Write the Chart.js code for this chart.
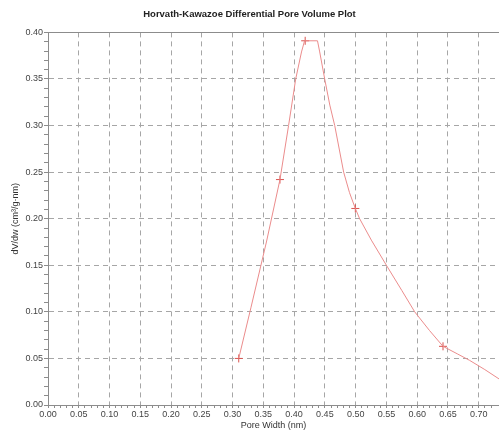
<!DOCTYPE html>
<html lang="en">
<head>
  <meta charset="UTF-8" />
  <title>Horvath-Kawazoe Differential Pore Volume Plot</title>
  <script src="https://cdn.jsdelivr.net/npm/chart.js"></script>
  <style>
    body {
      margin: 0;
      background: #fff;
    }
    canvas {
      display: block;
    }
  </style>
</head>
<body>
  <canvas id="hkChart" width="499" height="430"></canvas>

  <script>
    // curve (pore width in nm, dV/dw in cm3/g.nm)
    const poreWidth = [0.310, 0.330, 0.355, 0.377, 0.391, 0.4026, 0.412, 0.417, 0.438, 0.4416, 0.4497, 0.458,
      0.466, 0.4805, 0.490, 0.4995, 0.5065, 0.5255, 0.550, 0.575, 0.596, 0.620, 0.642, 0.665, 0.685, 0.710, 0.733];
    const dVdw = [0.050, 0.105, 0.175, 0.242, 0.300, 0.350, 0.379, 0.391, 0.391, 0.379, 0.350, 0.322,
      0.300, 0.250, 0.228, 0.211, 0.200, 0.177, 0.150, 0.123, 0.100, 0.080, 0.063, 0.055, 0.048, 0.038, 0.028];

    // measured points drawn with a "+"
    const markerWidth = [0.310, 0.377, 0.418, 0.4995, 0.642];
    const markerDVdw = [0.050, 0.242, 0.391, 0.211, 0.063];

    const xMin = 0, xMax = 0.733;
    const yMin = 0, yMax = 0.40;
    const minorStep = 0.01;

    const font = { family: "'Liberation Sans', Arial, sans-serif", size: 9 };
    const axisGray = '#8c8c8c';
    const gridGray = '#a6a6a6';

    function isMajor(v) {
      return Math.round(v * 100) % 5 === 0;
    }

    function keepHundredths(scale) {
      scale.ticks = scale.ticks.filter(t => Math.abs(t.value * 100 - Math.round(t.value * 100)) < 1e-6);
    }

    function points(xs, ys) {
      return xs.map((x, i) => ({ x: x, y: ys[i] }));
    }

    const ctx = document.getElementById('hkChart').getContext('2d');
    new Chart(ctx, {
      type: 'scatter',
      data: {
        datasets: [
          {
            label: 'dV/dw',
            data: points(poreWidth, dVdw),
            showLine: true,
            borderColor: '#eb8c8c',
            borderWidth: 1,
            pointRadius: 0,
            tension: 0
          },
          {
            label: 'points',
            data: points(markerWidth, markerDVdw),
            showLine: false,
            pointStyle: 'cross',
            pointRadius: 4,
            borderColor: '#d9534f',
            borderWidth: 1
          }
        ]
      },
      options: {
        responsive: false,
        animation: false,
        layout: { padding: 0, autoPadding: false },
        plugins: {
          legend: { display: false },
          tooltip: { enabled: false },
          title: {
            display: true,
            text: 'Horvath-Kawazoe Differential Pore Volume Plot',
            color: '#222',
            font: { family: font.family, size: 9.5, weight: 'bold' },
            padding: { top: 9, bottom: 12 }
          }
        },
        scales: {
          x: {
            type: 'linear',
            position: 'bottom',
            min: xMin,
            max: xMax,
            afterBuildTicks: keepHundredths,
            afterFit: scale => { scale.height = 25; scale.paddingRight = 0; },
            ticks: {
              stepSize: minorStep,
              autoSkip: false,
              maxRotation: 0,
              padding: 1,
              color: '#444',
              font: font,
              callback: v => isMajor(v) ? v.toFixed(2) : ''
            },
            grid: {
              color: c => isMajor(c.tick.value) && c.tick.value > 0 ? gridGray : 'rgba(0,0,0,0)',
              tickColor: axisGray,
              tickLength: 3,
              lineWidth: 1
            },
            border: { color: axisGray, dash: [5, 4] },
            title: {
              display: true,
              text: 'Pore Width (nm)',
              color: '#333',
              font: font,
              padding: { top: 0, bottom: -1 }
            }
          },
          xTop: {
            type: 'linear',
            position: 'top',
            min: xMin,
            max: xMax,
            afterFit: scale => { scale.height = 0; scale.paddingRight = 0; scale.paddingLeft = 0; },
            ticks: { display: false },
            grid: { display: false, drawTicks: false },
            border: { color: axisGray }
          },
          y: {
            type: 'linear',
            position: 'left',
            min: yMin,
            max: yMax,
            afterBuildTicks: keepHundredths,
            afterFit: scale => { scale.width = 48; },
            ticks: {
              stepSize: minorStep,
              autoSkip: false,
              padding: 1,
              color: '#444',
              font: font,
              callback: v => isMajor(v) ? v.toFixed(2) : ''
            },
            grid: {
              color: c => isMajor(c.tick.value) && c.tick.value > 0 && c.tick.value < yMax ? gridGray : 'rgba(0,0,0,0)',
              tickColor: axisGray,
              tickLength: 4,
              lineWidth: 1
            },
            border: { color: axisGray, dash: [5, 4] },
            title: {
              display: true,
              text: 'dV/dw (cm³/g·nm)',
              color: '#333',
              font: font,
              padding: { top: 10, bottom: 0 }
            }
          }
        }
      }
    });
  </script>
</body>
</html>
